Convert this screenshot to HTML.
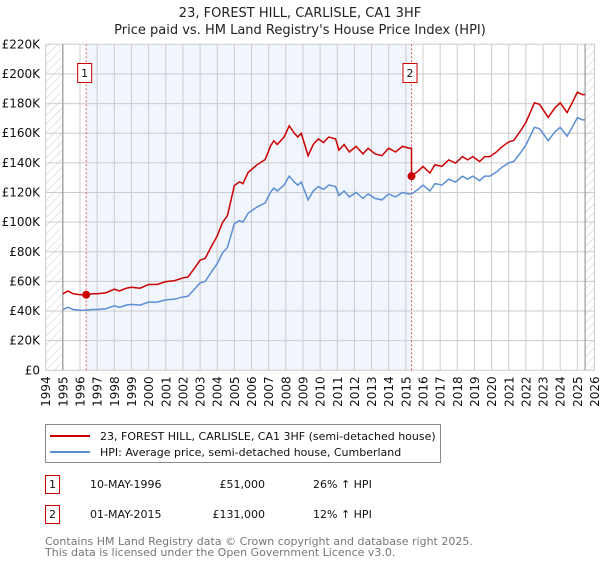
<!DOCTYPE html>
<html><head><meta charset="utf-8"><style>
body{margin:0;background:#fff;font-family:"Liberation Sans","DejaVu Sans",sans-serif;}
svg text{font-family:"DejaVu Sans","Liberation Sans",sans-serif;}
</style></head><body>
<svg id="chart" width="600" height="560" xmlns="http://www.w3.org/2000/svg">
<defs><pattern id="hatch" width="6" height="6" patternUnits="userSpaceOnUse" patternTransform="rotate(45)"><line x1="0" y1="0" x2="0" y2="6" stroke="#ccc" stroke-width="1"/></pattern></defs>
<text x="300" y="17" text-anchor="middle" font-size="13" fill="#222">23, FOREST HILL, CARLISLE, CA1 3HF</text>
<text x="300" y="34" text-anchor="middle" font-size="13" fill="#222">Price paid vs. HM Land Registry's House Price Index (HPI)</text>
<g id="plot"></g>
<g>
<rect x="45.5" y="424.5" width="395" height="38" fill="#fff" stroke="#888"/>
<line x1="50" y1="436" x2="90" y2="436" stroke="#cc0000" stroke-width="2"/>
<text x="100" y="440" font-size="11" fill="#111">23, FOREST HILL, CARLISLE, CA1 3HF (semi-detached house)</text>
<line x1="50" y1="452" x2="90" y2="452" stroke="#5b8fd4" stroke-width="2"/>
<text x="100" y="456" font-size="11" fill="#111">HPI: Average price, semi-detached house, Cumberland</text>
</g>
<g font-size="11" fill="#111">
<rect x="45.5" y="475.5" width="14" height="18" fill="#fff" stroke="#cc0000"/>
<text x="52.5" y="488" text-anchor="middle">1</text>
<text x="90" y="488">10-MAY-1996</text>
<text x="265" y="488" text-anchor="end">£51,000</text>
<text x="313" y="488">26% ↑ HPI</text>
<rect x="45.5" y="505.5" width="14" height="18" fill="#fff" stroke="#cc0000"/>
<text x="52.5" y="518" text-anchor="middle">2</text>
<text x="90" y="518">01-MAY-2015</text>
<text x="265" y="518" text-anchor="end">£131,000</text>
<text x="313" y="518">12% ↑ HPI</text>
</g>
<text x="45" y="545" font-size="11" fill="#777">Contains HM Land Registry data © Crown copyright and database right 2025.</text>
<text x="45" y="556" font-size="11" fill="#777">This data is licensed under the Open Government Licence v3.0.</text>
</svg>
<script>
const hpiDates=[1995.0,1995.3,1995.6,1996.0,1996.36,1996.7,1997.0,1997.5,1998.0,1998.3,1998.7,1999.0,1999.5,2000.0,2000.5,2001.0,2001.5,2002.0,2002.3,2002.7,2003.0,2003.3,2003.7,2004.0,2004.3,2004.6,2005.0,2005.3,2005.5,2005.8,2006.3,2006.8,2007.1,2007.3,2007.5,2007.9,2008.2,2008.5,2008.7,2008.9,2009.1,2009.3,2009.6,2009.9,2010.2,2010.5,2010.9,2011.1,2011.4,2011.7,2012.1,2012.5,2012.8,2013.2,2013.6,2014.0,2014.4,2014.8,2015.2,2015.33,2015.7,2016.0,2016.4,2016.7,2017.1,2017.5,2017.9,2018.3,2018.6,2018.9,2019.3,2019.6,2019.9,2020.3,2020.6,2021.0,2021.3,2021.7,2022.0,2022.5,2022.8,2023.3,2023.7,2024.0,2024.4,2024.7,2025.0,2025.3,2025.45];
const hpiValues=[41,42.5,41,40.5,40.5,41,41,41.5,43.5,42.5,44,44.5,44,46,46,47.5,48,49.5,50,55,59,60,67,72,79,83,99,101,100,106,110,113,120,123,121,125,131,127,125,127,121,115,121,124,122,125,124,118,121,117,120,116,119,116,115,119,117,120,119,119,122,125,121,126,125,129,127,131,129,131,128,131,131,134,137,140,141,147,152,164,163,155,161,164,158,164,170.5,169,169];
const saleDates=[1996.36,2015.33];
const salePrices=[51,131];
const saleLabels=["1","2"];
const yTicks=[0,20,40,60,80,100,120,140,160,180,200,220];
const xTicks=[1994,1995,1996,1997,1998,1999,2000,2001,2002,2003,2004,2005,2006,2007,2008,2009,2010,2011,2012,2013,2014,2015,2016,2017,2018,2019,2020,2021,2022,2023,2024,2025,2026];
const X0=45.7,X1=594.5,Y0=370.3,Y1=44.3;
const sx=t=>X0+(t-1994)/32*(X1-X0);
const sy=v=>Y0-v/220*(Y0-Y1);
const NS="http://www.w3.org/2000/svg";
const g=document.getElementById('plot');
function mk(tag,attrs,parent){const e=document.createElementNS(NS,tag);for(const k in attrs)e.setAttribute(k,attrs[k]);(parent||g).appendChild(e);return e;}
function hpiAt(t){for(let i=1;i<hpiDates.length;i++){if(t<=hpiDates[i]){const a=hpiDates[i-1],b=hpiDates[i];return hpiValues[i-1]+(hpiValues[i]-hpiValues[i-1])*(t-a)/(b-a);}}return hpiValues[hpiValues.length-1];}
// hatched areas
let r=mk('rect',{x:X0,y:Y1,width:sx(1995)-X0,height:Y0-Y1,fill:'url(#hatch)'});


r=mk('rect',{x:sx(2025.45),y:Y1,width:X1-sx(2025.45),height:Y0-Y1,fill:'url(#hatch)'});


r=mk('rect',{x:sx(saleDates[0]),y:Y1,width:sx(saleDates[1])-sx(saleDates[0]),height:Y0-Y1,fill:'#eef3fc',opacity:0.8});


// grid
yTicks.forEach(v=>{
 const l=mk('line',{x1:X0,x2:X1,y1:sy(v),y2:sy(v),stroke:'#ccc','stroke-width':1});
 
 
 const t=mk('text',{x:40,y:sy(v)+4,'text-anchor':'end','font-size':12,fill:'#111'});
 t.textContent='£'+(v?v+'K':'0');
 
 
});
xTicks.forEach(y=>{
 const l=mk('line',{x1:sx(y),x2:sx(y),y1:Y1,y2:Y0,stroke:'#ccc','stroke-width':1});
 
 
 const t=mk('text',{x:0,y:0,'text-anchor':'end','font-size':12,fill:'#111',transform:`translate(${sx(y)+4.5},${Y0+6}) rotate(-90)`});
 t.textContent=y;
 
 
});
let ax=mk('line',{x1:sx(1995),x2:sx(1995),y1:Y1,y2:Y0,stroke:'#888'});


ax=mk('line',{x1:sx(2025.45),x2:sx(2025.45),y1:Y1,y2:Y0,stroke:'#888'});


// sale vlines
saleDates.forEach((d,i)=>{
 const l=mk('line',{x1:sx(d),x2:sx(d),y1:Y1,y2:Y0,stroke:'#e06060','stroke-width':1,'stroke-dasharray':'2,2'});
 
 
});
// HPI line
const hp=mk('polyline',{points:hpiDates.map((d,i)=>sx(d)+','+sy(hpiValues[i])).join(' '),fill:'none',stroke:'#5b8fd4','stroke-width':1.5});


// price line: sale price indexed by HPI
const pts=[];
hpiDates.forEach((d,i)=>{
 let k=0;for(let j=0;j<saleDates.length;j++)if(d>=saleDates[j]-1e-9)k=j;
 if(i>0&&k>0&&hpiDates[i-1]<saleDates[k]&&d>saleDates[k]){
  pts.push([saleDates[k],salePrices[k-1]*hpiAt(saleDates[k])/hpiAt(saleDates[k-1])]);
  pts.push([saleDates[k],salePrices[k]]);
 }
 if(Math.abs(d-saleDates[k])<1e-9&&k>0){pts.push([d,salePrices[k-1]*hpiValues[i]/hpiAt(saleDates[k-1])]);}
 pts.push([d,salePrices[k]*hpiValues[i]/hpiAt(saleDates[k])]);
});
const pp=mk('polyline',{points:pts.map(p=>sx(p[0])+','+sy(p[1])).join(' '),fill:'none',stroke:'#cc0000','stroke-width':1.5});


saleDates.forEach((d,i)=>{
 const c=mk('circle',{cx:sx(d),cy:sy(salePrices[i]),r:4,fill:'#cc0000'});
 
 
 const bx=mk('rect',{x:sx(d)-8.5,y:63.5,width:14,height:19,fill:'#fff',stroke:'#cc0000'});
 
 
 const t=mk('text',{x:sx(d)-1.5,y:77,'text-anchor':'middle','font-size':11,fill:'#111'});
 t.textContent=saleLabels[i];
 
 
});
</script>
</body></html>
